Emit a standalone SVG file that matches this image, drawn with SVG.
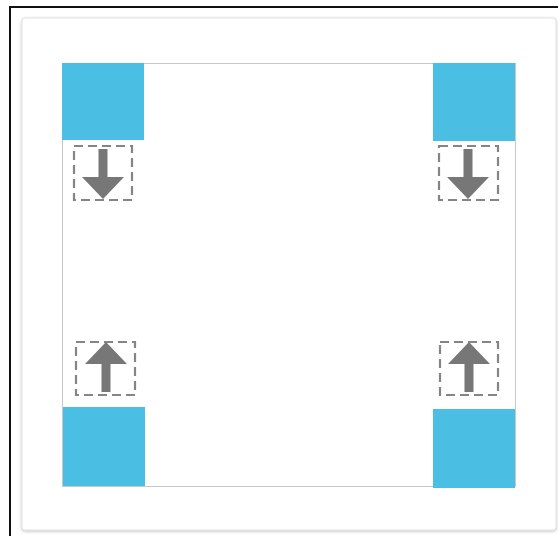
<svg xmlns="http://www.w3.org/2000/svg" width="558" height="536" viewBox="0 0 558 536">
<style>
.blue{fill:#4BBFE3}
.dbox{fill:none;stroke:#858585;stroke-width:2.2;stroke-dasharray:9,5}
.arrow{fill:#777777}
</style>
<defs>
<filter id="sh" x="-5%" y="-5%" width="110%" height="110%">
<feDropShadow dx="0" dy="1" stdDeviation="1.5" flood-color="#000" flood-opacity="0.25"/>
</filter>
<path id="down" d="M-4.5,-30 H4.5 V-2 H21 L0,20 L-21,-2 H-4.5 Z"/>
</defs>
<rect x="0" y="0" width="558" height="536" fill="#ffffff"/>
<rect x="10" y="7" width="560" height="540" fill="#ffffff" stroke="#111" stroke-width="2"/>
<g id="card">
<rect x="22" y="18" width="534" height="512" rx="3" fill="#ffffff" stroke="#e0e0e0" stroke-width="1" filter="url(#sh)"/>
<rect x="62.5" y="63.5" width="453" height="423" fill="#ffffff" stroke="#c8c8c8" stroke-width="1"/>
</g>
<g id="tl"><rect class="blue" x="62" y="63" width="82" height="77"/></g>
<g id="tr"><rect class="blue" x="433" y="63" width="82" height="78"/></g>
<g id="bl"><rect class="blue" x="63" y="407" width="82" height="79"/></g>
<g id="br"><rect class="blue" x="433" y="409" width="82" height="79"/></g>
<g id="tl-ctrl">
<rect class="dbox" x="74" y="146" width="58" height="54"/>
<use href="#down" class="arrow" transform="translate(103,179)"/>
</g>
<g id="tr-ctrl">
<rect class="dbox" x="439" y="146" width="59" height="54"/>
<use href="#down" class="arrow" transform="translate(468,179)"/>
</g>
<g id="bl-ctrl">
<rect class="dbox" x="76" y="342" width="59" height="53"/>
<use href="#down" class="arrow" transform="translate(106,362) scale(1,-1)"/>
</g>
<g id="br-ctrl">
<rect class="dbox" x="440" y="342" width="58" height="53"/>
<use href="#down" class="arrow" transform="translate(469,362) scale(1,-1)"/>
</g>
<g id="connectors"></g>
</svg>
